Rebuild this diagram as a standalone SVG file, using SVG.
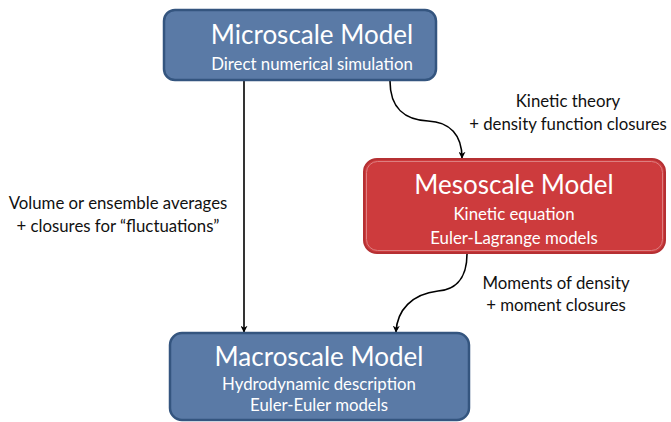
<svg xmlns="http://www.w3.org/2000/svg" width="671" height="422" viewBox="0 0 671 422">
<style>
.blue{fill:#5a7aa6;stroke:#34557f;stroke-width:2.5}
.red{fill:#cd3b3d;stroke:#b53033;stroke-width:2}
.redin{fill:none;stroke:#dd7f80;stroke-width:1}
.t1{font-family:"Lato","Open Sans",sans-serif;fill:#fff;font-size:26px;text-anchor:middle}
.t2{font-family:"Lato","Open Sans",sans-serif;fill:#fff;font-size:16.8px;text-anchor:middle}
.lb{font-family:"Lato","Open Sans",sans-serif;fill:#111;font-size:16.8px;text-anchor:middle}
.cn{fill:none;stroke:#000;stroke-width:1.6;marker-end:url(#ah)}
</style>
<defs>
<marker id="ah" viewBox="0 0 10 10" refX="9" refY="5" markerWidth="7" markerHeight="7" orient="auto" markerUnits="userSpaceOnUse">
<path d="M0,0 L10,5 L0,10 L3,5 z" fill="#000"/>
</marker>
</defs>
<g id="connectors">
<path class="cn" d="M244,81 L244,332"/>
<path class="cn" d="M390,81 C390,108 405,120 428,121 C450,122 462,135 462,158"/>
<path class="cn" d="M467,254 C467,282 452,290 438,291 C412,294 397,310 396,332"/>
</g>
<g id="microscale">
<rect class="blue" x="164" y="10" width="272" height="70" rx="11"/>
<text class="t1" x="312" y="44">Microscale Model</text>
<text class="t2" x="312" y="70">Direct numerical simulation</text>
</g>
<g id="mesoscale">
<rect class="red" x="364" y="159" width="301" height="94" rx="13"/>
<rect class="redin" x="366.5" y="161.5" width="296" height="89" rx="11"/>
<text class="t1" x="514" y="194">Mesoscale Model</text>
<text class="t2" x="514" y="220">Kinetic equation</text>
<text class="t2" x="514" y="244">Euler-Lagrange models</text>
</g>
<g id="macroscale">
<rect class="blue" x="170" y="333" width="299" height="87" rx="12"/>
<text class="t1" x="319" y="366">Macroscale Model</text>
<text class="t2" x="319" y="390">Hydrodynamic description</text>
<text class="t2" x="319" y="411">Euler-Euler models</text>
</g>
<g id="labels">
<text class="lb" x="568" y="107">Kinetic theory</text>
<text class="lb" x="568" y="130">+ density function closures</text>
<text class="lb" x="118" y="209">Volume or ensemble averages</text>
<text class="lb" x="118" y="232">+ closures for “fluctuations”</text>
<text class="lb" x="556" y="289">Moments of density</text>
<text class="lb" x="556" y="311">+ moment closures</text>
</g>
</svg>
